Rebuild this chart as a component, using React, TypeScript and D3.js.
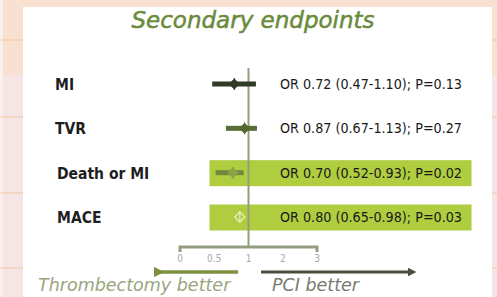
import React, { useRef, useEffect } from 'react';
import * as d3 from 'd3';

// forest plot data
const endpoints = ['MI', 'TVR', 'Death or MI', 'MACE'];
const oddsRatios = [0.72, 0.87, 0.7, 0.8];
const ciLow = [0.47, 0.67, 0.52, 0.65];
const ciHigh = [1.1, 1.13, 0.93, 0.98];
const pValues = ['0.13', '0.27', '0.02', '0.03'];
const significant = [false, false, true, true];
const tickValues = [0, 0.5, 1, 2, 3];
const tickLabels = ['0', '0.5', '1', '2', '3'];

const lineColors = ['#2f3a27', '#5b6d36', '#75883f', '#dfe9b0'];
const markColors = ['#2f3a27', '#55672f', '#8ba24a', '#e4eeb8'];

const W = 497;
const H = 297;
const condensed = 'DejaVu Sans Condensed, DejaVu Sans';

const App = () => {
  const svgRef = useRef<SVGSVGElement | null>(null);

  useEffect(() => {
    const svg = d3.select(svgRef.current);
    svg.selectAll('*').remove();

    // slide background: tiles left/right, white panel
    svg.append('rect').attr('width', W).attr('height', H).attr('fill', '#f5e5e4');
    svg.append('rect').attr('width', W).attr('height', 75).attr('fill', '#f8e1d1');
    svg.append('rect').attr('width', 3).attr('height', H).attr('fill', '#faf0ee');
    [40, 117, 193, 268].forEach(y => {
      svg.append('line').attr('x1', 0).attr('x2', W).attr('y1', y).attr('y2', y)
        .attr('stroke', '#f2c7a6').attr('stroke-width', 1.2);
    });
    svg.append('rect').attr('x', 23).attr('y', 7).attr('width', 469).attr('height', H - 7).attr('fill', '#ffffff');

    // title
    svg.append('text')
      .attr('x', 253).attr('y', 28)
      .attr('text-anchor', 'middle')
      .style('font-family', 'DejaVu Sans')
      .style('font-style', 'italic')
      .style('font-size', '23px')
      .attr('fill', '#6a8a3c')
      .attr('stroke', '#6a8a3c')
      .attr('stroke-width', 0.5)
      .text('Secondary endpoints');

    // scales: ticks are equally spaced (0, 0.5, 1, 2, 3)
    const x = d3.scaleLinear()
      .domain(tickValues)
      .range(tickValues.map((_, i) => 180 + i * 34.25));

    const y = d3.scalePoint<string>()
      .domain(endpoints)
      .range([84, 217]);

    // highlighted bands behind significant rows
    endpoints.forEach((e, i) => {
      if (!significant[i]) return;
      svg.append('rect')
        .attr('x', 209.5).attr('y', y(e)! - 12.5)
        .attr('width', 262).attr('height', 26)
        .attr('fill', '#afcd3f');
    });

    // reference line at OR = 1
    svg.append('line')
      .attr('x1', x(1)).attr('x2', x(1))
      .attr('y1', 68).attr('y2', 247)
      .attr('stroke', '#939d80').attr('stroke-width', 2);

    // axis
    const axis = svg.append('g');
    axis.append('path')
      .attr('d', `M${x(0)},252V247H${x(3)}V252`)
      .attr('fill', 'none')
      .attr('stroke', '#939d80')
      .attr('stroke-width', 3);
    tickValues.forEach((t, i) => {
      axis.append('text')
        .attr('x', x(t)).attr('y', 262)
        .attr('text-anchor', 'middle')
        .style('font-family', condensed)
        .style('font-size', '10px')
        .attr('fill', '#a8a8a8')
        .text(tickLabels[i]);
    });

    // rows
    endpoints.forEach((e, i) => {
      const cy = y(e)!;
      svg.append('text')
        .attr('x', i < 2 ? 55 : 57).attr('y', cy + 6)
        .style('font-family', condensed)
        .style('font-weight', 'bold')
        .style('font-size', '15.5px')
        .attr('fill', '#1e1e1e')
        .text(e);

      svg.append('line')
        .attr('x1', x(ciLow[i])).attr('x2', x(ciHigh[i]) + (i < 2 ? 4 : 0))
        .attr('y1', cy).attr('y2', cy)
        .attr('stroke', lineColors[i])
        .attr('stroke-width', i === 3 ? 0 : 5);

      const px = x(oddsRatios[i]) + 5;
      const r = 5;
      svg.append('path')
        .attr('d', `M${px},${cy - r}L${px + r},${cy}L${px},${cy + r}L${px - r},${cy}Z`)
        .attr('fill', i === 3 ? 'none' : markColors[i])
        .attr('stroke', markColors[i])
        .attr('stroke-width', i === 3 ? 1.5 : 1);
      svg.append('line')
        .attr('x1', px).attr('x2', px)
        .attr('y1', cy - r - 1).attr('y2', cy + r + 1)
        .attr('stroke', markColors[i]).attr('stroke-width', 1.2);

      svg.append('text')
        .attr('x', 462).attr('y', cy + 5)
        .attr('text-anchor', 'end')
        .style('font-family', condensed)
        .style('font-size', '14.2px')
        .attr('fill', '#1a1a1a')
        .text(`OR ${oddsRatios[i].toFixed(2)} (${ciLow[i].toFixed(2)}-${ciHigh[i].toFixed(2)}); P=${pValues[i]}`);
    });

    // direction arrows
    const defs = svg.append('defs');
    const marker = (id: string, color: string, left: boolean) => {
      defs.append('marker')
        .attr('id', id)
        .attr('viewBox', '0 0 10 10')
        .attr('refX', 5).attr('refY', 5)
        .attr('markerWidth', 3).attr('markerHeight', 3)
        .attr('orient', 'auto')
        .append('path')
        .attr('d', left ? 'M0,5L10,0V10Z' : 'M10,5L0,0V10Z')
        .attr('fill', color);
    };
    marker('arrL', '#7b9140', true);
    marker('arrR', '#4a4d3e', false);

    svg.append('line')
      .attr('x1', 238).attr('x2', 159).attr('y1', 272).attr('y2', 272)
      .attr('stroke', '#7b9140').attr('stroke-width', 3.5)
      .attr('marker-end', 'url(#arrL)');
    svg.append('line')
      .attr('x1', 261).attr('x2', 412).attr('y1', 272).attr('y2', 272)
      .attr('stroke', '#4a4d3e').attr('stroke-width', 3)
      .attr('marker-end', 'url(#arrR)');

    svg.append('text')
      .attr('x', 38).attr('y', 291)
      .style('font-family', 'DejaVu Sans')
      .style('font-style', 'italic')
      .style('font-size', '17.5px')
      .attr('fill', '#98a67c')
      .text('Thrombectomy better');
    svg.append('text')
      .attr('x', 272).attr('y', 291)
      .style('font-family', 'DejaVu Sans')
      .style('font-style', 'italic')
      .style('font-size', '17.5px')
      .attr('fill', '#7a7a72')
      .text('PCI better');
  }, []);

  return (
    <svg
      ref={svgRef}
      width={W}
      height={H}
      style={{ position: 'absolute', left: 0, top: 0, display: 'block' }}
    />
  );
};

export default App;
